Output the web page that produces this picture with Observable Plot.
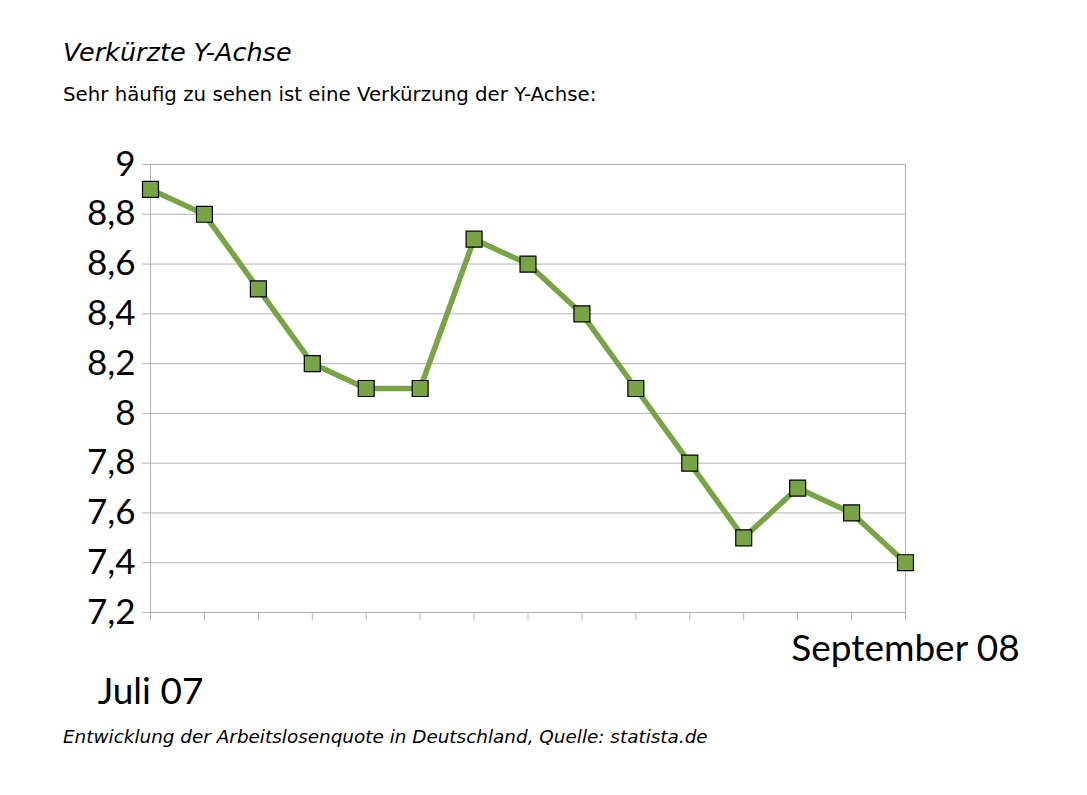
<!DOCTYPE html>
<html>
<head>
<meta charset="utf-8">
<script src="https://cdn.jsdelivr.net/npm/d3@7"></script>
<script src="https://cdn.jsdelivr.net/npm/@observablehq/plot@0.6"></script>
<style>
  html, body { margin: 0; padding: 0; background: #fff; overflow: hidden; }
  #page { position: relative; width: 1087px; height: 795px; overflow: hidden; background: #fff; }
  .txt { position: absolute; left: 63px; line-height: 1; white-space: nowrap; color: #000; font-family: "DejaVu Sans", sans-serif; }
  #title { top: 40px; font-size: 25.5px; font-style: italic; }
  #subtitle { top: 85px; font-size: 19.8px; }
  #caption { top: 728px; font-size: 18.4px; font-style: italic; }
  #chart { position: absolute; left: 0; top: 130px; }
</style>
</head>
<body>
<div id="page">
  <div id="title" class="txt">Verkürzte Y-Achse</div>
  <div id="subtitle" class="txt">Sehr häufig zu sehen ist eine Verkürzung der Y-Achse:</div>
  <div id="chart"></div>
  <div id="caption" class="txt">Entwicklung der Arbeitslosenquote in Deutschland, Quelle: statista.de</div>
</div>
<script>
// Months July 2007 – September 2008
const months = ["Jul 07","Aug 07","Sep 07","Okt 07","Nov 07","Dez 07","Jan 08","Feb 08","Mär 08","Apr 08","Mai 08","Jun 08","Jul 08","Aug 08","Sep 08"];
// Unemployment rate (%)
const rates = [8.9, 8.8, 8.5, 8.2, 8.1, 8.1, 8.7, 8.6, 8.4, 8.1, 7.8, 7.5, 7.7, 7.6, 7.4];
// Y tick values
const yTicks = [7.2, 7.4, 7.6, 7.8, 8, 8.2, 8.4, 8.6, 8.8, 9];
// Visible x labels (first and last month)
const firstLabel = "Juli 07";
const lastLabel = "September 08";

const data = months.map((m, i) => ({month: m, rate: rates[i]}));
const grid = "#b3b3b3";
const green = "#78a445";
const fmt = d => String(d).replace(".", ",");

const plot = Plot.plot({
  width: 1087,
  height: 585,
  marginLeft: 150,
  marginRight: 182,
  marginTop: 34,
  marginBottom: 103,
  style: {background: "transparent", fontFamily: "Lato, 'Open Sans', sans-serif", color: "#000"},
  x: {type: "point", domain: months, padding: 0, round: false, axis: null, label: null},
  y: {domain: [7.2, 9], axis: null, label: null},
  marks: [
    Plot.ruleY(yTicks, {stroke: grid, strokeWidth: 1}),
    Plot.ruleX([months[0], months[months.length - 1]], {y1: 7.2, y2: 9, stroke: grid, strokeWidth: 1}),
    Plot.axisX({ticks: months, tickSize: 8, tickFormat: () => "", stroke: grid, label: null}),
    Plot.axisY({ticks: yTicks, tickSize: 8, tickPadding: 7, tickFormat: fmt, stroke: grid, fontSize: 35, fill: "#000", label: null}),
    Plot.line(data, {x: "month", y: "rate", stroke: green, strokeWidth: 5.5, strokeLinejoin: "round"}),
    Plot.dot(data, {x: "month", y: "rate", symbol: "square", r: 9, fill: green, stroke: "#000", strokeWidth: 1.2}),
    Plot.text([firstLabel], {x: () => months[0], y: () => 7.2, text: d => d, dy: 80, fontSize: 37, fill: "#000"}),
    Plot.text([lastLabel], {x: () => months[months.length - 1], y: () => 7.2, text: d => d, dy: 37, fontSize: 37, fill: "#000"})
  ]
});
document.getElementById("chart").appendChild(plot);
</script>
</body>
</html>
